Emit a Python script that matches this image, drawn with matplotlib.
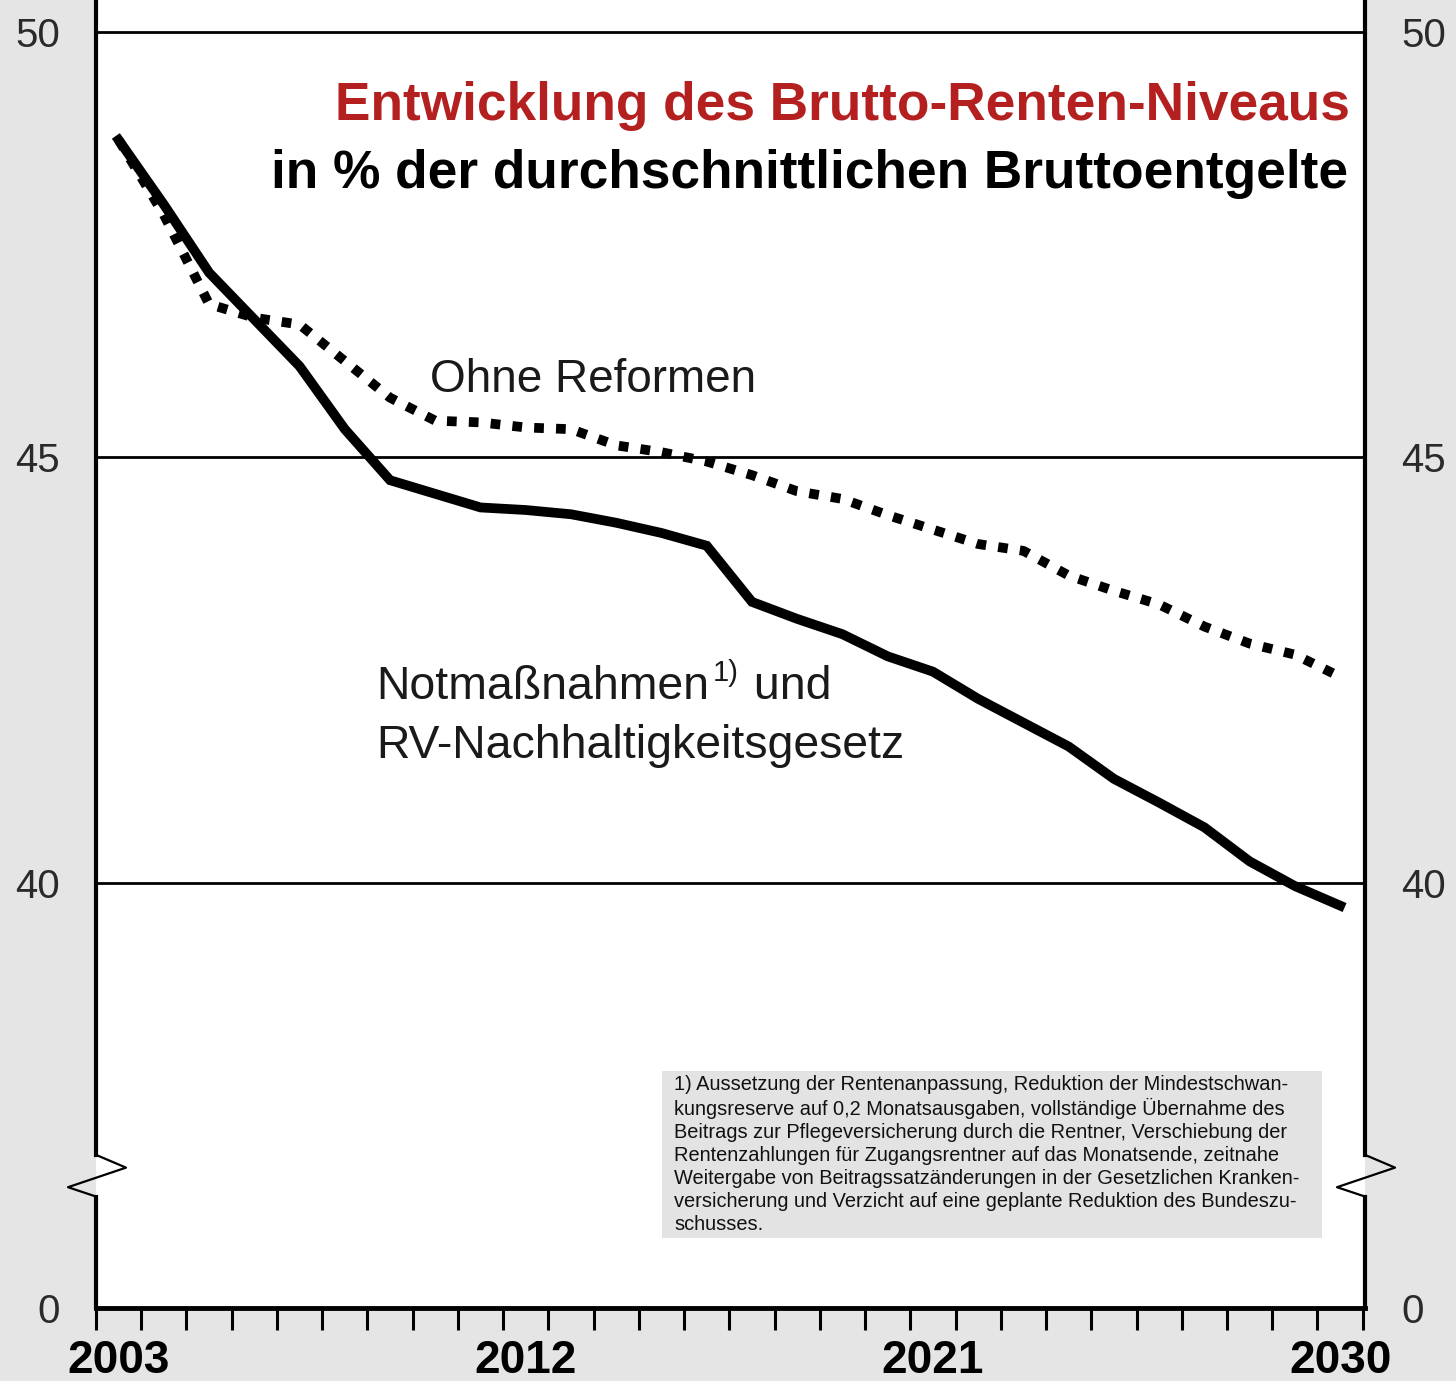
import numpy as np
import matplotlib
matplotlib.use('Agg')
import matplotlib.pyplot as plt
from matplotlib.patches import Rectangle

# data
years = list(range(2003, 2031))
# "Notmaßnahmen und RV-Nachhaltigkeitsgesetz" (solid)
notmassnahmen = [48.73, 47.97, 47.17, 46.62, 46.07, 45.33, 44.73, 44.57, 44.41, 44.38,
                 44.33, 44.23, 44.11, 43.96, 43.30, 43.10, 42.92, 42.66, 42.48, 42.16,
                 41.88, 41.60, 41.22, 40.94, 40.65, 40.25, 39.96, 39.73]
# "Ohne Reformen" (dotted)
ohne_reformen = [48.73, 47.85, 46.80, 46.64, 46.56, 46.13, 45.70, 45.43, 45.41, 45.35,
                 45.33, 45.14, 45.06, 44.95, 44.79, 44.60, 44.51, 44.32, 44.15, 43.98,
                 43.90, 43.61, 43.43, 43.27, 43.01, 42.81, 42.68, 42.42]
label_years = [2003, 2012, 2021, 2030]
y_ticks = [35, 40, 45, 50]
y_ticklabels = ['0', '40', '45', '50']   # axis is broken: bottom shows 0
grid_levels = [40, 45, 50]

footnote = ("1) Aussetzung der Rentenanpassung, Reduktion der Mindestschwan-\n"
            "kungsreserve auf 0,2 Monatsausgaben, vollständige Übernahme des\n"
            "Beitrags zur Pflegeversicherung durch die Rentner, Verschiebung der\n"
            "Rentenzahlungen für Zugangsrentner auf das Monatsende, zeitnahe\n"
            "Weitergabe von Beitragssatzänderungen in der Gesetzlichen Kranken-\n"
            "versicherung und Verzicht auf eine geplante Reduktion des Bundeszu-\n"
            "schusses.")

plt.rcParams['font.family'] = ['Liberation Sans', 'DejaVu Sans']

fig = plt.figure(figsize=(14.56, 13.81), dpi=100, facecolor='#e5e5e5')
ax = fig.add_axes([96/1456, 73/1381, 1269/1456, 1308/1381])
ax.set_facecolor('white')
ax.set_xlim(2002.514, 2030.55)
ax.set_ylim(35, 50.375)

for lev in grid_levels:
    ax.axhline(lev, color='black', lw=2.0, zorder=1)

ax.plot(years, notmassnahmen, color='black', lw=7, solid_joinstyle='miter', zorder=3)
ax.plot(years, ohne_reformen, color='black', lw=7, linestyle=(0, (1, 1.25)),
        dash_capstyle='butt', zorder=3)

# spines: bottom drawn by matplotlib, left/right drawn with a break
for s in ['top', 'left', 'right']:
    ax.spines[s].set_visible(False)
ax.spines['bottom'].set_linewidth(3.5)

ytr = ax.get_yaxis_transform()
brk_top, brk_hi, brk_lo, brk_bot = 36.80, 36.65, 36.42, 36.31
dx_r, dx_l = 30/1269, 28/1269
for x0 in [0, 1]:
    ax.plot([x0, x0], [35, brk_bot], color='black', lw=3, transform=ytr, clip_on=False, zorder=4)
    ax.plot([x0, x0], [brk_top, 50.375], color='black', lw=3, transform=ytr, clip_on=False, zorder=4)
    ax.plot([x0, x0 + dx_r, x0 - dx_l, x0], [brk_top, brk_hi, brk_lo, brk_bot],
            color='black', lw=1.6, transform=ytr, clip_on=False, zorder=4)

# x ticks: marks between years, labels at selected years
ax.set_xticks(np.arange(2002.5, 2031, 1.0), minor=True)
ax.set_xticks(label_years)
ax.set_xticklabels([str(y) for y in label_years], fontsize=33, fontweight='bold')
ax.tick_params(axis='x', which='minor', length=16, width=2.2, direction='out')
ax.tick_params(axis='x', which='major', length=0, pad=22)

ax.set_yticks(y_ticks)
ax.set_yticklabels(y_ticklabels)
ax.tick_params(axis='y', length=0, labelsize=29, labelcolor='#2a2a2a',
               left=False, right=False, labelleft=True, labelright=True, pad=26)

# titles
ax.text(2030.22, 48.97, 'Entwicklung des Brutto-Renten-Niveaus', color='#b3201f',
        fontsize=38.3, fontweight='bold', ha='right', va='baseline')
ax.text(2030.18, 48.17, 'in % der durchschnittlichen Bruttoentgelte', color='black',
        fontsize=38.3, fontweight='bold', ha='right', va='baseline')

# series labels
ax.text(2009.89, 45.77, 'Ohne Reformen', fontsize=33, color='#1a1a1a', va='baseline')
t1 = ax.text(2008.70, 42.16, 'Notmaßnahmen', fontsize=33.4, color='#1a1a1a', va='baseline')
t2 = ax.annotate('1)', xy=(1, 1), xycoords=t1, xytext=(2, 4), textcoords='offset points',
                 fontsize=21, color='#1a1a1a', ha='left', va='top')
ax.annotate(' und', xy=(1, 0), xycoords=(t2, t1), xytext=(2, 0), textcoords='offset points',
            fontsize=33.4, color='#1a1a1a', ha='left', va='bottom')
ax.text(2008.70, 41.47, 'RV-Nachhaltigkeitsgesetz', fontsize=33.4, color='#1a1a1a', va='baseline')

# footnote box
ax.add_patch(Rectangle((2015.02, 35.82), 14.58, 1.97, facecolor='#e3e3e3',
                       edgecolor='none', zorder=2))
ax.text(2015.28, 37.74, footnote, fontsize=14.4, color='#111111', ha='left', va='top',
        linespacing=1.26, zorder=3)

fig.savefig('out.png', dpi=100, facecolor=fig.get_facecolor())
